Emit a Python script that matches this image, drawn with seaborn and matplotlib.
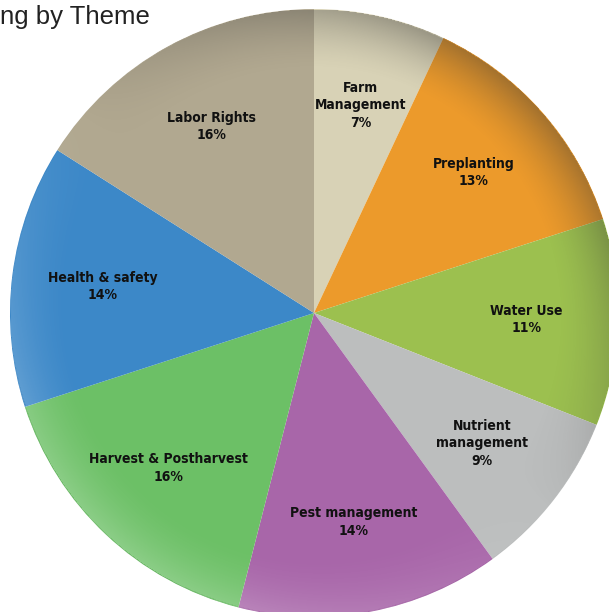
import seaborn as sns
import matplotlib.pyplot as plt
import numpy as np

sns.set_theme(style="white")
plt.rcParams['font.family'] = ['DejaVu Sans']

# themes clockwise from 12 o'clock
themes = ["Farm\nManagement", "Preplanting", "Water Use", "Nutrient\nmanagement",
          "Pest management", "Harvest & Postharvest", "Health & safety", "Labor Rights"]
shares = [7, 13, 11, 9, 14, 16, 14, 16]
colors = ["#d8d2b6", "#ec9a2b", "#9cc04f", "#bcbebe",
          "#a866a9", "#6cc066", "#3c88c8", "#b1a890"]

labels = [f"{t}\n{s}%" for t, s in zip(themes, shares)]

fig = plt.figure(figsize=(6.09, 6.12), dpi=100)
ax = fig.add_axes([10 / 609, -5 / 612, 608 / 609, 608 / 612])

wedges, texts = ax.pie(shares, labels=labels, colors=colors, startangle=90,
                       counterclock=False, labeldistance=0.7,
                       wedgeprops=dict(linewidth=0),
                       textprops=dict(fontsize=10, fontweight="bold",
                                      fontstretch="condensed",
                                      color="#111111", linespacing=1.3))
for t in texts:
    t.set_ha("center")
    t.set_va("center")
    t.set_zorder(4)

# rim shading: darker towards upper right, lighter towards lower left
n = 600
xs = np.linspace(-1, 1, n)
X, Y = np.meshgrid(xs, xs)
R = np.hypot(X, Y)
TH = np.arctan2(Y, X)
edge = np.clip((R - 0.8) / 0.2, 0, 1) ** 1.6
s = np.cos(TH - np.deg2rad(50))
rgba = np.zeros((n, n, 4))
rgba[..., :3] = np.where(s[..., None] > 0, 0.2, 1.0)
rgba[..., 3] = np.where(s > 0, edge * s * 0.4, edge * -s * 0.22)
rgba[R > 1] = 0
ax.imshow(rgba, extent=(-1, 1, -1, 1), origin="lower", zorder=3, interpolation="bilinear")

ax.set_xlim(-1, 1)
ax.set_ylim(-1, 1)
ax.set_aspect("equal")
ax.axis("off")

fig.text(0.0, 1 - 5 / 612, "ng by Theme", fontsize=18.5, va="top", ha="left",
         family=["Liberation Sans", "DejaVu Sans"], color="#222222")

fig.savefig("out.png", dpi=100)
